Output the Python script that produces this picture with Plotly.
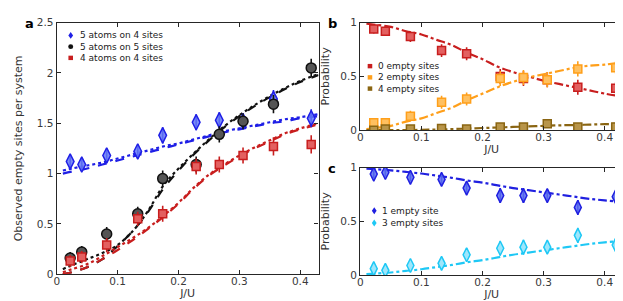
import plotly.graph_objects as go

# ---------------- data ----------------
ju = [0.022, 0.041, 0.082, 0.133, 0.174, 0.229, 0.267, 0.306, 0.356, 0.418]

# panel a
a_5on4 = [1.12, 1.09, 1.18, 1.22, 1.38, 1.51, 1.53, 1.52, 1.74, 1.55]
a_5on5 = [0.16, 0.22, 0.40, 0.60, 0.95, 1.09, 1.39, 1.52, 1.69, 2.05]
a_4on4 = [0.13, 0.17, 0.29, 0.55, 0.60, 1.07, 1.09, 1.18, 1.27, 1.29]
a_err = [0.06, 0.06, 0.07, 0.07, 0.08, 0.08, 0.08, 0.08, 0.09, 0.09]

# panel b
b_0 = [0.94, 0.92, 0.87, 0.74, 0.71, 0.50, 0.48, 0.47, 0.40, 0.39]
b_2 = [0.07, 0.07, 0.13, 0.26, 0.29, 0.48, 0.49, 0.47, 0.57, 0.58]
b_4 = [0.00, 0.01, 0.01, 0.015, 0.01, 0.03, 0.03, 0.06, 0.03, 0.03]
b_err = [0.04, 0.04, 0.05, 0.06, 0.06, 0.07, 0.07, 0.07, 0.07, 0.06]
b_err4 = [0.01, 0.01, 0.01, 0.015, 0.01, 0.02, 0.02, 0.03, 0.02, 0.02]

# panel c
c_1 = [0.94, 0.955, 0.91, 0.89, 0.81, 0.74, 0.74, 0.74, 0.63, 0.73]
c_3 = [0.06, 0.045, 0.09, 0.11, 0.19, 0.25, 0.26, 0.26, 0.37, 0.28]
c_err = [0.04, 0.04, 0.04, 0.05, 0.06, 0.07, 0.07, 0.06, 0.07, 0.06]

# theory curves
tx = [0.01, 0.025, 0.05, 0.075, 0.1, 0.125, 0.15, 0.175, 0.2, 0.225,
      0.25, 0.275, 0.3, 0.325, 0.35, 0.375, 0.4, 0.43]
t_blue_dot = [1.03, 1.05, 1.08, 1.11, 1.15, 1.19, 1.23, 1.27, 1.30, 1.34,
              1.38, 1.42, 1.45, 1.48, 1.51, 1.54, 1.56, 1.59]
t_blue_dash = [1.00, 1.02, 1.05, 1.09, 1.13, 1.17, 1.21, 1.25, 1.29, 1.33,
               1.37, 1.41, 1.44, 1.47, 1.50, 1.52, 1.55, 1.57]
t_black_dot = [0.05, 0.09, 0.15, 0.21, 0.29, 0.43, 0.63, 0.88, 1.05, 1.20,
               1.34, 1.47, 1.58, 1.68, 1.77, 1.85, 1.92, 1.99]
t_black_dash = [0.00, 0.02, 0.07, 0.15, 0.28, 0.43, 0.62, 0.85, 1.03, 1.19,
                1.33, 1.46, 1.57, 1.67, 1.76, 1.84, 1.91, 1.98]
t_red_dot = [0.02, 0.05, 0.10, 0.18, 0.27, 0.36, 0.46, 0.58, 0.71, 0.86,
             0.99, 1.09, 1.18, 1.26, 1.33, 1.40, 1.45, 1.50]
t_red_dash = [0.00, 0.02, 0.07, 0.15, 0.24, 0.34, 0.45, 0.57, 0.70, 0.85,
              0.98, 1.08, 1.17, 1.25, 1.32, 1.39, 1.44, 1.49]

t_b0 = [0.99, 0.98, 0.96, 0.92, 0.89, 0.84, 0.79, 0.72, 0.66, 0.59,
        0.54, 0.50, 0.46, 0.43, 0.40, 0.37, 0.34, 0.31]
t_b2 = [0.01, 0.02, 0.04, 0.08, 0.11, 0.16, 0.21, 0.28, 0.34, 0.40,
        0.45, 0.49, 0.52, 0.55, 0.58, 0.60, 0.61, 0.63]
t_b4 = [0.0, 0.0, 0.0, 0.0, 0.003, 0.006, 0.01, 0.015, 0.02, 0.025,
        0.03, 0.035, 0.04, 0.045, 0.048, 0.052, 0.056, 0.06]
t_c1 = [0.99, 0.985, 0.975, 0.96, 0.945, 0.925, 0.905, 0.88, 0.86, 0.835,
        0.81, 0.79, 0.77, 0.75, 0.73, 0.71, 0.695, 0.68]
t_c3 = [0.01, 0.015, 0.025, 0.04, 0.055, 0.075, 0.095, 0.12, 0.14, 0.165,
        0.19, 0.21, 0.23, 0.25, 0.27, 0.29, 0.305, 0.32]

xticks = [0, 0.1, 0.2, 0.3, 0.4]
xticklabels = ["0", "0.1", "0.2", "0.3", "0.4"]

legend_a = ["5 atoms on 4 sites", "5 atoms on 5 sites", "4 atoms on 4 sites"]
legend_b = ["0 empty sites", "2 empty sites", "4 empty sites"]
legend_c = ["1 empty site", "3 empty sites"]

# ---------------- figure ----------------
W, H = 623, 301
fig = go.Figure()

BLUE = "#1f1fe6"
BLACK = "#111111"
RED = "#c81e1e"
ORANGE = "#ff9f1a"
BROWN = "#8a6512"
LBLUE = "#2020e0"
CYAN = "#1ec8f5"


def line(x, y, color, dash, xa, ya, w=2.2):
    fig.add_trace(go.Scatter(x=x, y=y, mode="lines", xaxis=xa, yaxis=ya,
                             line=dict(color=color, dash=dash, width=w, shape="spline"),
                             showlegend=False, hoverinfo="skip"))


def pts(y, err, name, color, fill, symbol, size, xa, ya):
    fig.add_trace(go.Scatter(x=ju, y=y, mode="markers", name=name, xaxis=xa, yaxis=ya,
                             error_y=dict(type="data", array=err, color=color,
                                          thickness=1.6, width=0),
                             marker=dict(symbol=symbol, size=size, color=fill,
                                         line=dict(color=color, width=1.5)),
                             showlegend=False))


# panel a theory
line(tx, t_blue_dot, BLUE, "dot", "x", "y")
line(tx, t_blue_dash, BLUE, "dash", "x", "y")
line(tx, t_black_dot, BLACK, "dot", "x", "y")
line(tx, t_black_dash, BLACK, "dash", "x", "y")
line(tx, t_red_dot, RED, "dot", "x", "y")
line(tx, t_red_dash, RED, "dash", "x", "y")

pts(a_5on4, a_err, legend_a[0], BLUE, "rgba(100,120,245,0.85)", "diamond-tall", 11, "x", "y")
pts(a_5on5, a_err, legend_a[1], BLACK, "#555555", "circle", 10, "x", "y")
pts(a_4on4, a_err, legend_a[2], RED, "#e36060", "square", 8, "x", "y")

# panel b
line(tx, t_b0, RED, "dashdot", "x2", "y2", 2.2)
line(tx, t_b2, ORANGE, "dashdot", "x2", "y2", 2.2)
line(tx, t_b4, BROWN, "dashdot", "x2", "y2", 2.2)
pts(b_0, b_err, legend_b[0], RED, "#e36060", "square", 8, "x2", "y2")
pts(b_2, b_err, legend_b[1], ORANGE, "#ffc060", "square", 8, "x2", "y2")
pts(b_4, b_err4, legend_b[2], BROWN, "#b8954a", "square", 8, "x2", "y2")

# panel c
line(tx, t_c1, LBLUE, "dashdot", "x3", "y3", 2.2)
line(tx, t_c3, CYAN, "dashdot", "x3", "y3", 2.2)
pts(c_1, c_err, legend_c[0], LBLUE, "rgba(90,110,240,0.85)", "diamond-tall", 10, "x3", "y3")
pts(c_3, c_err, legend_c[1], CYAN, "#9ee6fb", "diamond-tall", 10, "x3", "y3")

# ---------------- compact legends (shapes + text) ----------------
shapes = []
annotations = []
leg_font = dict(family="DejaVu Sans", size=9, color="#222222")


def px(x):
    return x / W


def py(y):
    return 1 - y / H


def legend_marker(kind, cx, cy, color):
    if kind == "square":
        shapes.append(dict(type="rect", xref="paper", yref="paper",
                           x0=px(cx - 2.3), x1=px(cx + 2.3), y0=py(cy + 2.3), y1=py(cy - 2.3),
                           fillcolor=color, line=dict(width=0)))
    elif kind == "circle":
        shapes.append(dict(type="circle", xref="paper", yref="paper",
                           x0=px(cx - 2.5), x1=px(cx + 2.5), y0=py(cy + 2.5), y1=py(cy - 2.5),
                           fillcolor=color, line=dict(width=0)))
    else:
        path = "M {:.5f},{:.5f} L {:.5f},{:.5f} L {:.5f},{:.5f} L {:.5f},{:.5f} Z".format(
            px(cx), py(cy - 3.6), px(cx + 2.4), py(cy), px(cx), py(cy + 3.6), px(cx - 2.4), py(cy))
        shapes.append(dict(type="path", xref="paper", yref="paper", path=path,
                           fillcolor=color, line=dict(width=0)))


def legend_block(names, kinds, colors, mx, tx0, y0, dy):
    for i, (n, k, c) in enumerate(zip(names, kinds, colors)):
        cy = y0 + i * dy
        legend_marker(k, mx, cy, c)
        annotations.append(dict(text=n, x=px(tx0), y=py(cy), xref="paper", yref="paper",
                                showarrow=False, xanchor="left", yanchor="middle",
                                font=leg_font))


legend_block(legend_a, ["diamond", "circle", "square"], [BLUE, BLACK, RED], 60, 67, 22.3, 11.7)
legend_block(legend_b, ["square", "square", "square"], [RED, ORANGE, BROWN], 360.7, 367, 54.3, 11.7)
legend_block(legend_c, ["diamond", "diamond"], [LBLUE, CYAN], 365, 371, 205, 12.6)

for lab, x, y in [("a", 12, 10), ("b", 317, 10), ("c", 317, 161)]:
    annotations.append(dict(text="<b>%s</b>" % lab, x=px(x), y=py(y), xref="paper", yref="paper",
                            showarrow=False, xanchor="left", yanchor="middle",
                            font=dict(family="DejaVu Sans", size=13, color="black")))

axis_common = dict(showline=True, linecolor="#262626", linewidth=1.3, mirror="ticks",
                   ticks="inside", ticklen=4, tickwidth=1.1, tickcolor="#262626",
                   showgrid=False, zeroline=False,
                   tickfont=dict(family="DejaVu Sans", size=10.5, color="#3a3a3a"))
xcommon = dict(axis_common, ticklabelstandoff=-3)
ycommon = dict(axis_common, ticklabelstandoff=0)
title_font = dict(family="DejaVu Sans", size=11, color="#333333")

fig.update_layout(
    width=W, height=H, margin=dict(l=0, r=0, t=0, b=0),
    paper_bgcolor="white", plot_bgcolor="white", showlegend=False,
    xaxis=dict(domain=[46/W, 309/W], range=[0, 0.43], tickvals=xticks, ticktext=xticklabels,
               anchor="y", title=dict(text="J/U", font=title_font, standoff=0), **xcommon),
    yaxis=dict(domain=[1-271/H, 1-9/H], range=[0, 2.5], tickvals=[0, 0.5, 1, 1.5, 2, 2.5],
               ticktext=["0", "0.5", "1", "1.5", "2", "2.5"], anchor="x",
               title=dict(text="Observed empty sites per system", font=title_font, standoff=11),
               **ycommon),
    xaxis2=dict(domain=[351/W, 615/W], range=[0, 0.43], tickvals=xticks, ticktext=xticklabels,
                anchor="y2", title=dict(text="J/U", font=title_font, standoff=0), **xcommon),
    yaxis2=dict(domain=[1-121/H, 1-9/H], range=[0, 1], tickvals=[0, 0.5, 1],
                ticktext=["0", "0.5", "1"], anchor="x2",
                title=dict(text="Probability", font=title_font, standoff=8), **ycommon),
    xaxis3=dict(domain=[351/W, 615/W], range=[0, 0.43], tickvals=xticks, ticktext=xticklabels,
                anchor="y3", title=dict(text="J/U", font=title_font, standoff=0), **xcommon),
    yaxis3=dict(domain=[1-272/H, 1-160/H], range=[0, 1], tickvals=[0, 0.5, 1],
                ticktext=["0", "0.5", "1"], anchor="x3",
                title=dict(text="Probability", font=title_font, standoff=8), **ycommon),
    shapes=shapes,
    annotations=annotations,
)

fig.write_html("out.html")
